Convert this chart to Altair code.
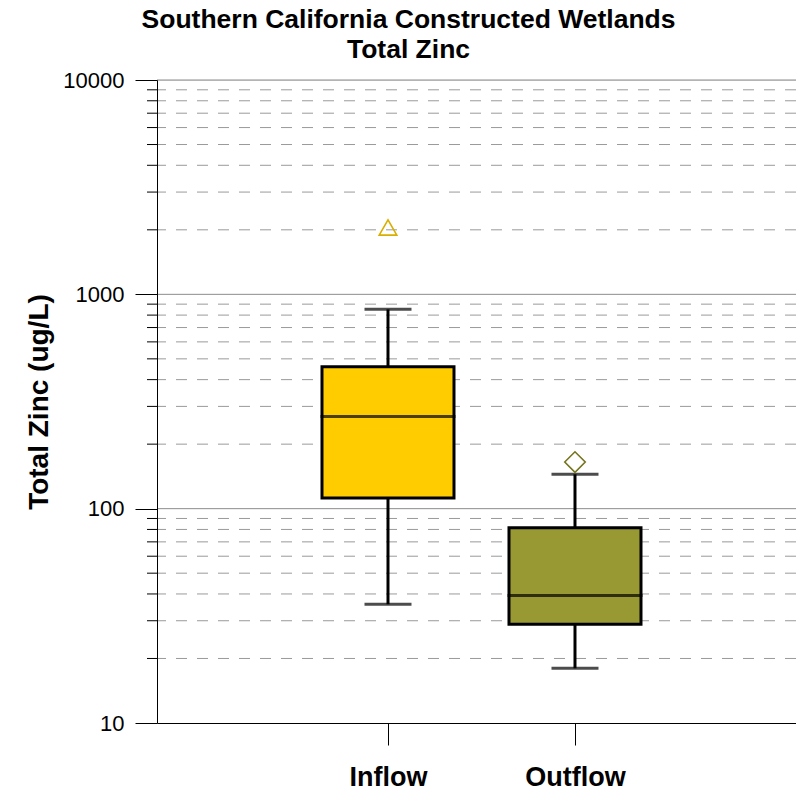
import altair as alt
import pandas as pd

FONT = "Liberation Sans"

# --- data ---
groups = ["Inflow", "Outflow"]
lower_whisker = [35.8, 18.0]
q1 = [112, 28.9]
median = [269, 39.3]
q3 = [459, 81.5]
upper_whisker = [851, 144.7]
outlier = [2050, 165]

box_colors = ["#FFCC00", "#999933"]
outlier_colors = ["#D9AE00", "#74741C"]
outlier_shapes = ["triangle-up", "diamond"]
outlier_sizes = [310, 420]

# empty slots on each side of the two categories (x spacing only)
x_domain = [" ", "Inflow", "Outflow", "  "]

y_ticks = [10, 100, 1000, 10000]
major_grid = [100, 1000, 10000]
minor_grid = [20, 30, 40, 50, 60, 70, 80, 90,
              200, 300, 400, 500, 600, 700, 800, 900,
              2000, 3000, 4000, 5000, 6000, 7000, 8000, 9000]

df = pd.DataFrame({
    "group": groups,
    "lo": lower_whisker,
    "q1": q1,
    "median": median,
    "q3": q3,
    "hi": upper_whisker,
    "out": outlier,
})
major_df = pd.DataFrame({"v": major_grid})
minor_df = pd.DataFrame({"v": minor_grid})

yscale = alt.Scale(type="log", domain=[10, 10000], nice=False)

yaxis = alt.Axis(
    values=y_ticks, format="d",
    title="Total Zinc (ug/L)", titleFont=FONT, titleFontSize=28,
    titleFontWeight="bold", titleColor="black",
    titleAngle=270, titleAlign="center", titleBaseline="middle",
    titleX=-118, titleY=321.5,
    labelFont=FONT, labelFontSize=22, labelColor="black", labelPadding=11,
    tickSize=22, tickColor="black", tickWidth=1,
    domainColor="black", domainWidth=1, grid=False, zindex=1,
)


def Y(field):
    return alt.Y(field, scale=yscale, axis=yaxis)


xenc = alt.X(
    "group:N",
    scale=alt.Scale(type="point", domain=x_domain, padding=0.2086, align=0.564),
    axis=alt.Axis(
        values=groups,
        title=None, labelAngle=0, labelFont=FONT, labelFontSize=27,
        labelFontWeight="bold", labelColor="black",
        labelBaseline="alphabetic", labelPadding=40,
        tickSize=22, tickColor="black", tickWidth=1,
        domainColor="black", domainWidth=1, grid=False, zindex=1,
    ),
)

minor_lines = alt.Chart(minor_df).mark_rule(
    color="#9a9a9a", strokeWidth=1, strokeDash=[11, 10]
).encode(y=Y("v:Q"))

minor_ticks = alt.Chart(minor_df).mark_rule(color="black", strokeWidth=1).encode(
    y=Y("v:Q"),
    x=alt.value(-10), x2=alt.value(0),
)

major_lines = alt.Chart(major_df).mark_rule(
    color="#8c8c8c", strokeWidth=1
).encode(y=Y("v:Q"))

base = alt.Chart(df)

upper_whisk = base.mark_rule(color="black", strokeWidth=3).encode(
    x=xenc, y=Y("hi:Q"), y2="q3:Q"
)
lower_whisk = base.mark_rule(color="black", strokeWidth=3).encode(
    x=xenc, y=Y("q1:Q"), y2="lo:Q"
)
box = base.mark_bar(size=132, stroke="black", strokeWidth=3).encode(
    x=xenc,
    y=Y("q3:Q"),
    y2="q1:Q",
    color=alt.Color("group:N", scale=alt.Scale(domain=groups, range=box_colors), legend=None),
)
med = base.mark_tick(color="black", thickness=3, size=135, orient="horizontal").encode(
    x=xenc, y=Y("median:Q")
)
cap_hi = base.mark_tick(color="black", thickness=3, size=47, orient="horizontal").encode(
    x=xenc, y=Y("hi:Q")
)
cap_lo = base.mark_tick(color="black", thickness=3, size=47, orient="horizontal").encode(
    x=xenc, y=Y("lo:Q")
)
outl = base.mark_point(filled=False, strokeWidth=1.6, opacity=1).encode(
    x=xenc,
    y=Y("out:Q"),
    shape=alt.Shape("group:N", scale=alt.Scale(domain=groups, range=outlier_shapes), legend=None),
    stroke=alt.Stroke("group:N", scale=alt.Scale(domain=groups, range=outlier_colors), legend=None),
    size=alt.Size("group:N", scale=alt.Scale(domain=groups, range=outlier_sizes), legend=None),
)

chart = alt.layer(
    minor_lines, major_lines, minor_ticks,
    upper_whisk, lower_whisk, box, med, cap_hi, cap_lo, outl,
).properties(
    width=639,
    height=643,
    autosize=alt.AutoSizeParams(type="none"),
    padding={"left": 149, "top": 72, "right": 0, "bottom": 63},
    title=alt.TitleParams(
        ["Southern California Constructed Wetlands", "Total Zinc"],
        font=FONT, fontSize=26.5, fontWeight="bold", color="black",
        anchor="middle", dx=-68, offset=6, lineHeight=30,
    ),
).configure_view(stroke=None).configure(background="white")

chart.save("out.html", embed_options={"renderer": "svg", "actions": False})
